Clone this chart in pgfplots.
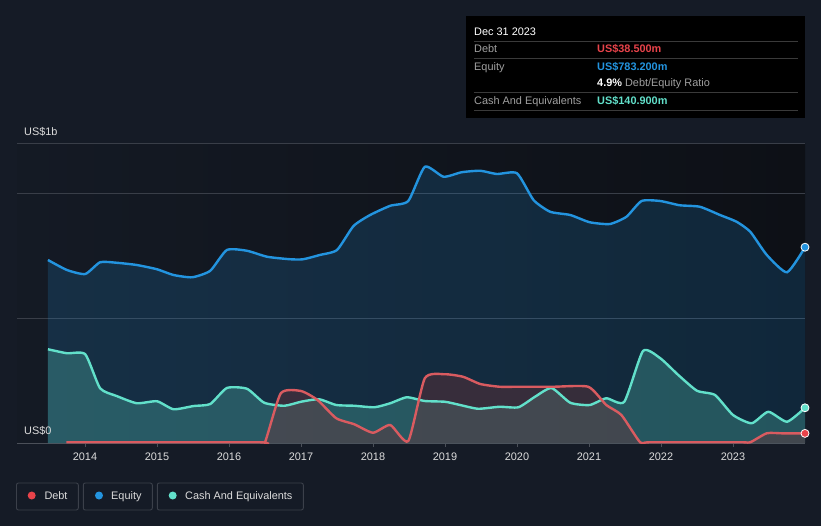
\documentclass[border=0pt]{standalone}
\usepackage{pgfplots}
\pgfplotsset{compat=1.18}
\usepackage{fontspec}
\setmainfont{Liberation Sans}
\usetikzlibrary{calc}

\definecolor{bg}{HTML}{151B26}
\definecolor{plotdark}{HTML}{0D1016}
\definecolor{gridc}{HTML}{393E48}
\definecolor{axisc}{HTML}{4B5059}
\definecolor{eqc}{HTML}{2394DF}
\definecolor{cashc}{HTML}{62E0CA}
\definecolor{debtc}{HTML}{D95B60}
\definecolor{debtdot}{HTML}{E8434A}
\definecolor{debtfill}{HTML}{6E3237}
\definecolor{txt}{HTML}{DCDCDC}
\definecolor{greyt}{HTML}{A0A0A0}
\definecolor{sepc}{HTML}{3A3A3A}
\definecolor{boxc}{HTML}{3B404A}

\newcommand{\fs}{\fontsize{10.9bp}{12bp}\selectfont}

\begin{document}
\begin{tikzpicture}
\path[use as bounding box] (0,0) rectangle (821bp,-526bp);
\fill[bg] (0,0) rectangle (821bp,-526bp);
% plot area shading
\shade[left color=bg!90!plotdark, right color=plotdark] (17bp,-143bp) rectangle (805bp,-443bp);

\begin{axis}[
  at={(17bp,-443bp)}, anchor=south west,
  width=788bp, height=300bp, scale only axis,
  xmin=2013.056, xmax=2024.0, ymin=0, ymax=1200,
  axis x line*=bottom, axis y line*=left,
  x axis line style={draw=axisc, line width=0.8bp, -},
  y axis line style={draw=none},
  xtick={2014,2015,...,2023},
  xticklabels={2014,2015,2016,2017,2018,2019,2020,2021,2022,2023},
  xticklabel style={font=\fs, text=txt, yshift=-2.5bp},
  tick align=outside, major tick length=4bp,
  xtick style={draw=axisc, line width=0.8bp},
  ytick={500,1000,1200}, yticklabels={}, ytick style={draw=none},
  ymajorgrids, grid style={draw=gridc, line width=0.8bp},
  clip=true,
  every axis plot/.append style={smooth, tension=0.35},
]
% ---- fills
\addplot[draw=none, fill=eqc, fill opacity=0.18] coordinates {
(2013.486,732) (2013.75,692) (2014.004,676) (2014.21,723) (2014.44,721)
(2014.72,712) (2015.0,695) (2015.23,672) (2015.49,663) (2015.74,689)
(2015.97,772) (2016.25,769) (2016.53,745) (2016.85,735) (2017.03,735)
(2017.26,752) (2017.50,772) (2017.73,868) (2017.96,912) (2018.24,949)
(2018.49,968) (2018.72,1105) (2018.98,1065) (2019.23,1083) (2019.49,1089)
(2019.72,1076) (2020.0,1079) (2020.23,972) (2020.46,925) (2020.74,912)
(2021.01,883) (2021.29,876) (2021.52,905) (2021.73,968) (2021.99,968)
(2022.26,951) (2022.54,945) (2022.82,912) (2023.05,885) (2023.24,845)
(2023.47,752) (2023.75,683) (2024.0,783.2)} \closedcycle;

\addplot[draw=none, fill=cashc, fill opacity=0.25] coordinates {
(2013.486,375) (2013.75,359) (2014.004,355) (2014.21,219) (2014.44,188)
(2014.72,159) (2015.0,167) (2015.23,135) (2015.51,148) (2015.74,156)
(2015.97,220) (2016.25,217) (2016.49,161) (2016.77,149) (2017.0,165)
(2017.25,175) (2017.49,152) (2017.74,149) (2018.02,143) (2018.24,159)
(2018.47,183) (2018.72,168) (2019.0,165) (2019.21,152) (2019.46,137)
(2019.76,145) (2020.02,143) (2020.25,185) (2020.48,220) (2020.74,161)
(2021.01,152) (2021.24,179) (2021.49,165) (2021.75,368) (2021.99,339)
(2022.24,272) (2022.50,209) (2022.75,192) (2023.0,112) (2023.26,79)
(2023.49,125) (2023.75,85) (2024.0,140.9)} \closedcycle;

\addplot[draw=none, fill=debtfill, fill opacity=0.4] coordinates {
(2013.74,3) (2016.40,3) (2016.50,3) (2016.72,199) (2017.0,208)
(2017.23,172) (2017.49,99) (2017.74,75) (2018.0,41) (2018.24,72)
(2018.49,8) (2018.72,259) (2019.0,275) (2019.25,265) (2019.49,236)
(2019.76,225) (2020.0,225) (2020.5,225) (2020.99,225) (2021.24,152)
(2021.45,112) (2021.71,3) (2021.85,3) (2023.1,3) (2023.24,3)
(2023.47,39) (2023.7,38.5) (2024.0,38.5)} \closedcycle;

% ---- lines
\addplot[draw=eqc, line width=2.4bp] coordinates {
(2013.486,732) (2013.75,692) (2014.004,676) (2014.21,723) (2014.44,721)
(2014.72,712) (2015.0,695) (2015.23,672) (2015.49,663) (2015.74,689)
(2015.97,772) (2016.25,769) (2016.53,745) (2016.85,735) (2017.03,735)
(2017.26,752) (2017.50,772) (2017.73,868) (2017.96,912) (2018.24,949)
(2018.49,968) (2018.72,1105) (2018.98,1065) (2019.23,1083) (2019.49,1089)
(2019.72,1076) (2020.0,1079) (2020.23,972) (2020.46,925) (2020.74,912)
(2021.01,883) (2021.29,876) (2021.52,905) (2021.73,968) (2021.99,968)
(2022.26,951) (2022.54,945) (2022.82,912) (2023.05,885) (2023.24,845)
(2023.47,752) (2023.75,683) (2024.0,783.2)};

\addplot[draw=cashc, line width=2.4bp] coordinates {
(2013.486,375) (2013.75,359) (2014.004,355) (2014.21,219) (2014.44,188)
(2014.72,159) (2015.0,167) (2015.23,135) (2015.51,148) (2015.74,156)
(2015.97,220) (2016.25,217) (2016.49,161) (2016.77,149) (2017.0,165)
(2017.25,175) (2017.49,152) (2017.74,149) (2018.02,143) (2018.24,159)
(2018.47,183) (2018.72,168) (2019.0,165) (2019.21,152) (2019.46,137)
(2019.76,145) (2020.02,143) (2020.25,185) (2020.48,220) (2020.74,161)
(2021.01,152) (2021.24,179) (2021.49,165) (2021.75,368) (2021.99,339)
(2022.24,272) (2022.50,209) (2022.75,192) (2023.0,112) (2023.26,79)
(2023.49,125) (2023.75,85) (2024.0,140.9)};

\addplot[draw=debtc, line width=2.4bp] coordinates {
(2013.74,3) (2016.40,3) (2016.50,3) (2016.72,199) (2017.0,208)
(2017.23,172) (2017.49,99) (2017.74,75) (2018.0,41) (2018.24,72)
(2018.49,8) (2018.72,259) (2019.0,275) (2019.25,265) (2019.49,236)
(2019.76,225) (2020.0,225) (2020.5,225) (2020.99,225) (2021.24,152)
(2021.45,112) (2021.71,3) (2021.85,3) (2023.1,3) (2023.24,3)
(2023.47,39) (2023.7,38.5) (2024.0,38.5)};

% ---- end markers
\addplot[only marks, mark=*, mark size=4bp, mark options={fill=eqc, draw=white, line width=0.8bp}] coordinates {(2024.0,783.2)};
\addplot[only marks, mark=*, mark size=4bp, mark options={fill=cashc, draw=white, line width=0.8bp}] coordinates {(2024.0,140.9)};
\addplot[only marks, mark=*, mark size=4bp, mark options={fill=debtdot, draw=white, line width=0.8bp}] coordinates {(2024.0,38.5)};
\end{axis}

% y labels
\node[anchor=base west, text=txt, font=\fs, inner sep=0] at (24bp,-135bp) {US\$1b};
\node[anchor=base west, text=txt, font=\fs, inner sep=0] at (24bp,-434.7bp) {US\$0};

% tooltip
\fill[black] (466bp,-16bp) rectangle (805bp,-118bp);
\foreach \yy in {41,58,92,110} {\draw[sepc, line width=0.8bp] (474bp,-\yy bp) -- (798bp,-\yy bp);}
\node[anchor=base west, text=white, font=\fs, inner sep=0] at (474bp,-35bp) {Dec 31 2023};
\node[anchor=base west, text=greyt, font=\fs, inner sep=0] at (474bp,-52.7bp) {Debt};
\node[anchor=base west, text=debtdot, font=\fs\bfseries, inner sep=0] at (597bp,-52.7bp) {US\$38.500m};
\node[anchor=base west, text=greyt, font=\fs, inner sep=0] at (474bp,-70bp) {Equity};
\node[anchor=base west, text=eqc, font=\fs\bfseries, inner sep=0] at (597bp,-70bp) {US\$783.200m};
\node[anchor=base west, text=greyt, font=\fs, inner sep=0] at (597bp,-86.7bp) {\textcolor{white}{\bfseries 4.9\%} Debt/Equity Ratio};
\node[anchor=base west, text=greyt, font=\fs, inner sep=0] at (474bp,-104bp) {Cash And Equivalents};
\node[anchor=base west, text=cashc, font=\fs\bfseries, inner sep=0] at (597bp,-104bp) {US\$140.900m};

% legend
\draw[boxc, line width=0.9bp, rounded corners=2bp] (16.5bp,-483bp) rectangle (78.3bp,-510bp);
\draw[boxc, line width=0.9bp, rounded corners=2bp] (83.3bp,-483bp) rectangle (152.3bp,-510bp);
\draw[boxc, line width=0.9bp, rounded corners=2bp] (157.3bp,-483bp) rectangle (303.3bp,-510bp);
\fill[debtdot] (31.7bp,-495.5bp) circle (4bp);
\fill[eqc] (99bp,-495.5bp) circle (4bp);
\fill[cashc] (172.7bp,-495.5bp) circle (4bp);
\node[anchor=base west, text=txt, font=\fs, inner sep=0] at (44.3bp,-499.3bp) {Debt};
\node[anchor=base west, text=txt, font=\fs, inner sep=0] at (111bp,-499.3bp) {Equity};
\node[anchor=base west, text=txt, font=\fs, inner sep=0] at (185bp,-499.3bp) {Cash And Equivalents};
\end{tikzpicture}
\end{document}
